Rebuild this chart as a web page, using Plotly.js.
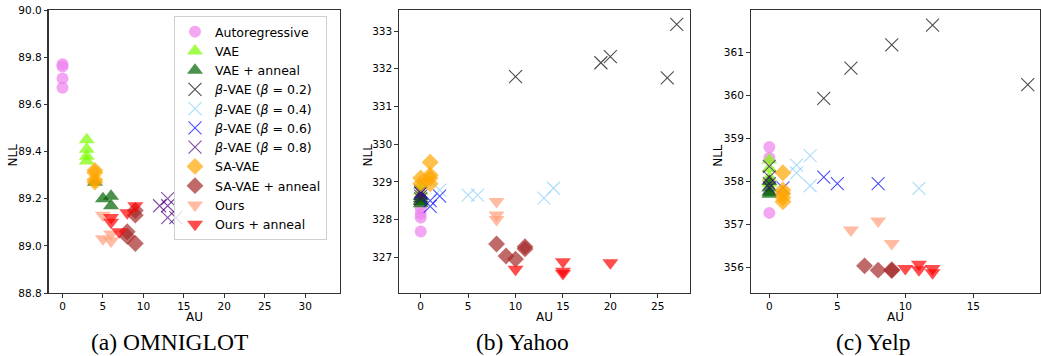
<!DOCTYPE html>
<html>
<head>
<meta charset="utf-8">
<script src="https://cdn.plot.ly/plotly-3.0.1.min.js"></script>
<style>html,body{margin:0;padding:0;background:#fff;}#chart{width:1041px;height:356px;}</style>
</head>
<body>
<div id="chart"></div>
<script>
// ---------- series names ----------
const seriesNames = ['Autoregressive', 'VAE', 'VAE + anneal',
  '<i>β</i>-VAE (<i>β</i> = 0.2)', '<i>β</i>-VAE (<i>β</i> = 0.4)',
  '<i>β</i>-VAE (<i>β</i> = 0.6)', '<i>β</i>-VAE (<i>β</i> = 0.8)',
  'SA-VAE', 'SA-VAE + anneal', 'Ours', 'Ours + anneal'];
const captions = ['(a) OMNIGLOT', '(b) Yahoo', '(c) Yelp'];

// ---------- (a) OMNIGLOT ----------
const omni_ar_au = [0, 0, 0, 0];
const omni_ar_nll = [89.77, 89.76, 89.71, 89.67];
const omni_vae_au = [3, 3, 3, 3];
const omni_vae_nll = [89.45, 89.41, 89.38, 89.36];
const omni_vaea_au = [4, 5, 6, 6];
const omni_vaea_nll = [89.27, 89.20, 89.21, 89.17];
const omni_b02_au = [];
const omni_b02_nll = [];
const omni_b04_au = [];
const omni_b04_nll = [];
const omni_b06_au = [];
const omni_b06_nll = [];
const omni_b08_au = [12, 13, 13, 13, 14];
const omni_b08_nll = [89.17, 89.20, 89.17, 89.12, 89.12];
const omni_sa_au = [4, 4, 4, 4];
const omni_sa_nll = [89.32, 89.31, 89.28, 89.27];
const omni_saa_au = [8, 8, 9, 9, 9];
const omni_saa_nll = [89.06, 89.04, 89.01, 89.15, 89.13];
const omni_ours_au = [5, 5, 6, 6];
const omni_ours_nll = [89.13, 89.03, 89.05, 89.02];
const omni_oursa_au = [6, 6, 7, 8, 9];
const omni_oursa_nll = [89.12, 89.10, 89.06, 89.14, 89.17];

// ---------- (b) Yahoo ----------
const yahoo_ar_au = [0, 0, 0, 0];
const yahoo_ar_nll = [327.68, 328.05, 328.15, 328.30];
const yahoo_vae_au = [0, 0, 0, 0];
const yahoo_vae_nll = [328.90, 328.75, 328.62, 328.50];
const yahoo_vaea_au = [0, 0, 0, 0];
const yahoo_vaea_nll = [328.62, 328.55, 328.48, 328.42];
const yahoo_b02_au = [10, 19, 20, 26, 27];
const yahoo_b02_nll = [331.79, 332.16, 332.32, 331.76, 333.18];
const yahoo_b04_au = [2, 5, 6, 13, 14];
const yahoo_b04_nll = [328.78, 328.65, 328.65, 328.57, 328.83];
const yahoo_b06_au = [0, 1, 1, 2];
const yahoo_b06_nll = [328.70, 328.50, 328.35, 328.62];
const yahoo_b08_au = [0, 0, 0, 0];
const yahoo_b08_nll = [328.75, 328.70, 328.62, 328.55];
const yahoo_sa_au = [0, 0, 1, 1, 1, 1];
const yahoo_sa_nll = [329.10, 328.95, 329.52, 329.18, 329.10, 328.95];
const yahoo_saa_au = [8, 9, 10, 11, 11];
const yahoo_saa_nll = [327.35, 327.03, 326.95, 327.28, 327.22];
const yahoo_ours_au = [8, 8, 8];
const yahoo_ours_nll = [328.48, 328.12, 328.00];
const yahoo_oursa_au = [10, 15, 15, 15, 20];
const yahoo_oursa_nll = [326.68, 326.88, 326.63, 326.57, 326.85];

// ---------- (c) Yelp ----------
const yelp_ar_au = [0, 0, 0, 0];
const yelp_ar_nll = [358.80, 358.55, 358.00, 357.27];
const yelp_vae_au = [0, 0, 0, 0];
const yelp_vae_nll = [358.50, 358.30, 358.10, 357.95];
const yelp_vaea_au = [0, 0, 0, 0];
const yelp_vaea_nll = [358.00, 357.85, 357.75, 357.70];
const yelp_b02_au = [4, 6, 9, 12, 19];
const yelp_b02_nll = [359.93, 360.63, 361.17, 361.63, 360.25];
const yelp_b04_au = [2, 2, 3, 3, 11];
const yelp_b04_nll = [358.38, 358.20, 358.60, 357.90, 357.84];
const yelp_b06_au = [1, 4, 5, 8];
const yelp_b06_nll = [357.85, 358.10, 357.95, 357.95];
const yelp_b08_au = [0, 0, 0, 0];
const yelp_b08_nll = [358.35, 358.10, 357.95, 357.85];
const yelp_sa_au = [1, 1, 1, 1, 1];
const yelp_sa_nll = [358.20, 357.80, 357.72, 357.62, 357.53];
const yelp_saa_au = [7, 8, 9, 9];
const yelp_saa_nll = [356.04, 355.94, 355.93, 355.95];
const yelp_ours_au = [6, 8, 9];
const yelp_ours_nll = [356.87, 357.08, 356.56];
const yelp_oursa_au = [10, 11, 11, 12, 12];
const yelp_oursa_nll = [355.98, 356.08, 355.95, 355.98, 355.88];

// ---------- styles ----------
const styles = [
  {color: '#ee82ee', symbol: 'circle', size: 12},
  {color: '#7cfc00', symbol: 'triangle-up', size: 14},
  {color: '#006400', symbol: 'triangle-up', size: 14},
  {color: '#000000', symbol: 'x-thin-open', size: 13},
  {color: '#87cefa', symbol: 'x-thin-open', size: 13},
  {color: '#0000ff', symbol: 'x-thin-open', size: 13},
  {color: '#4b0082', symbol: 'x-thin-open', size: 13},
  {color: '#ffa500', symbol: 'diamond', size: 13},
  {color: '#a52a2a', symbol: 'diamond', size: 13},
  {color: '#ffa07a', symbol: 'triangle-down', size: 14},
  {color: '#ff0000', symbol: 'triangle-down', size: 14}
];

const datasets = [
  [[omni_ar_au, omni_ar_nll], [omni_vae_au, omni_vae_nll], [omni_vaea_au, omni_vaea_nll],
   [omni_b02_au, omni_b02_nll], [omni_b04_au, omni_b04_nll], [omni_b06_au, omni_b06_nll],
   [omni_b08_au, omni_b08_nll], [omni_sa_au, omni_sa_nll], [omni_saa_au, omni_saa_nll],
   [omni_ours_au, omni_ours_nll], [omni_oursa_au, omni_oursa_nll]],
  [[yahoo_ar_au, yahoo_ar_nll], [yahoo_vae_au, yahoo_vae_nll], [yahoo_vaea_au, yahoo_vaea_nll],
   [yahoo_b02_au, yahoo_b02_nll], [yahoo_b04_au, yahoo_b04_nll], [yahoo_b06_au, yahoo_b06_nll],
   [yahoo_b08_au, yahoo_b08_nll], [yahoo_sa_au, yahoo_sa_nll], [yahoo_saa_au, yahoo_saa_nll],
   [yahoo_ours_au, yahoo_ours_nll], [yahoo_oursa_au, yahoo_oursa_nll]],
  [[yelp_ar_au, yelp_ar_nll], [yelp_vae_au, yelp_vae_nll], [yelp_vaea_au, yelp_vaea_nll],
   [yelp_b02_au, yelp_b02_nll], [yelp_b04_au, yelp_b04_nll], [yelp_b06_au, yelp_b06_nll],
   [yelp_b08_au, yelp_b08_nll], [yelp_sa_au, yelp_sa_nll], [yelp_saa_au, yelp_saa_nll],
   [yelp_ours_au, yelp_ours_nll], [yelp_oursa_au, yelp_oursa_nll]]
];

const axisSuffix = ['', '2', '3'];
const traces = [];
for (let d = 0; d < 3; d++) {
  for (let s = 0; s < seriesNames.length; s++) {
    const st = styles[s];
    const isX = st.symbol.indexOf('x-thin') === 0;
    traces.push({
      type: 'scatter', mode: 'markers',
      x: datasets[d][s][0], y: datasets[d][s][1],
      xaxis: 'x' + axisSuffix[d], yaxis: 'y' + axisSuffix[d],
      name: seriesNames[s], legendgroup: 'g' + s,
      showlegend: d === 1,
      legendrank: s + 1,
      marker: {
        color: st.color, symbol: st.symbol, size: st.size, opacity: 0.7,
        line: isX ? {color: st.color, width: 1.1} : {width: 0}
      },
      hoverinfo: 'x+y+name'
    });
  }
}

const font = {family: 'DejaVu Sans, sans-serif', size: 10.5, color: '#000'};
function axis(domain, range, dtick, anchor, fmt) {
  return {
    domain: domain, range: range, dtick: dtick, tick0: 0, anchor: anchor,
    showgrid: false, zeroline: false, showline: true, mirror: true,
    linecolor: '#333', linewidth: 1.2, ticks: 'outside', ticklen: 3.5,
    tickwidth: 1, tickcolor: '#333', tickfont: font, tickformat: fmt || '',
    fixedrange: true
  };
}
const yDom = [1 - 293 / 356, 1 - 10 / 356];
const layout = {
  width: 1041, height: 356,
  margin: {l: 0, r: 0, t: 0, b: 0},
  paper_bgcolor: '#fff', plot_bgcolor: '#fff',
  font: {family: 'DejaVu Sans, sans-serif'},
  xaxis: axis([48.5 / 1041, 340 / 1041], [-1.73, 34.3], 5, 'y'),
  yaxis: axis(yDom, [88.8, 90.0], 0.2, 'x', '.1f'),
  xaxis2: axis([399 / 1041, 690 / 1041], [-2.29, 28.4], 5, 'y2'),
  yaxis2: axis(yDom, [326.05, 333.56], 1, 'x2'),
  xaxis3: axis([750.7 / 1041, 1040 / 1041], [-1.37, 19.9], 5, 'y3'),
  yaxis3: axis(yDom, [355.41, 361.98], 1, 'x3'),
  showlegend: true,
  legend: {
    x: 174 / 1041, y: 1 - 16 / 356, xanchor: 'left', yanchor: 'top',
    bgcolor: 'rgba(255,255,255,0.8)', bordercolor: '#d0d0d0', borderwidth: 1,
    font: {family: 'DejaVu Sans, sans-serif', size: 12.5, color: '#000'},
    traceorder: 'normal', itemsizing: 'trace'
  },
  annotations: []
};
// axis titles and captions
const nllX = [12.5, 367.5, 717.8];
const auX = [194, 544.5, 895];
const capX = [169, 522.5, 873];
for (let d = 0; d < 3; d++) {
  layout.annotations.push({
    xref: 'paper', yref: 'paper', x: nllX[d] / 1041, y: 1 - 155 / 356,
    text: 'NLL', textangle: -90, showarrow: false, xanchor: 'center', yanchor: 'middle',
    font: {family: 'DejaVu Sans, sans-serif', size: 12, color: '#000'}
  });
  layout.annotations.push({
    xref: 'paper', yref: 'paper', x: auX[d] / 1041, y: 1 - 317 / 356,
    text: 'AU', showarrow: false, xanchor: 'center', yanchor: 'middle', borderpad: 0,
    font: {family: 'DejaVu Sans, sans-serif', size: 12, color: '#000'}
  });
  layout.annotations.push({
    xref: 'paper', yref: 'paper', x: capX[d] / 1041, y: 0,
    text: captions[d], showarrow: false, xanchor: 'center', yanchor: 'bottom',
    borderpad: 0,
    font: {family: 'Liberation Serif, Times New Roman, serif', size: 23.5, color: '#000'}
  });
}
Plotly.newPlot('chart', traces, layout, {displayModeBar: false, staticPlot: true});
</script>
</body>
</html>
